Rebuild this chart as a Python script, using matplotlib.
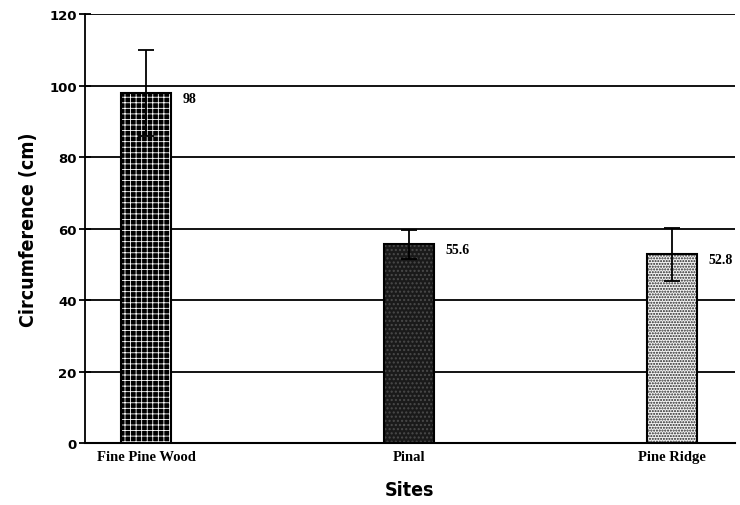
import matplotlib.pyplot as plt

sites = ['Fine Pine Wood', 'Pinal', 'Pine Ridge']
circumference = [98, 55.6, 52.8]
errors = [12, 4, 7.5]
value_labels = ['98', '55.6', '52.8']

fig = plt.figure(figsize=(7.4, 5.06), dpi=100)
ax = fig.add_axes([0.115, 0.1225, 0.878, 0.8475])

x = list(range(len(sites)))
w = 0.19

# gridlines behind the bars
ax.set_axisbelow(True)
ax.yaxis.grid(True, color='black', linewidth=1.3)

# Fine Pine Wood: black with fine white grid
plt.rcParams['hatch.linewidth'] = 0.6
ax.bar(x[0], circumference[0], width=w, color='black', edgecolor='white',
       hatch='+++', linewidth=0, zorder=2)
# Pinal: dense dark
plt.rcParams['hatch.linewidth'] = 1.0
ax.bar(x[1], circumference[1], width=w, color='#1a1a1a', edgecolor='#4a4a4a',
       hatch='....', linewidth=0, zorder=2)
# Pine Ridge: light dotted
ax.bar(x[2], circumference[2], width=w, color='#f4f4f4', edgecolor='#222222',
       hatch='......', linewidth=0, zorder=2)
# outlines
ax.bar(x, circumference, width=w, fill=False, edgecolor='black', linewidth=1.5, zorder=3)

ax.errorbar(x, circumference, yerr=errors, fmt='none', ecolor='black',
            elinewidth=1.3, capsize=6, capthick=1.3, zorder=4)

for xi, v, lab in zip(x, circumference, value_labels):
    ax.text(xi + w / 2 + 0.045, v - 1.5, lab, ha='left', va='center',
            fontsize=10, family='Liberation Serif', fontweight='bold')

ax.set_xlim(-0.233, 2.24)
ax.set_ylim(0, 120)
ax.set_yticks(range(0, 121, 20))
ax.set_xticks(x)
ax.set_xticklabels(sites, family='Liberation Serif', fontweight='bold', fontsize=10.5)
for lab in ax.get_yticklabels():
    lab.set_fontweight('bold')
    lab.set_fontsize(9.5)
ax.tick_params(axis='y', direction='inout', length=8, width=1.3, pad=2)
ax.tick_params(axis='x', length=0, pad=5)

ax.spines['top'].set_visible(False)
ax.spines['right'].set_visible(False)
ax.spines['left'].set_linewidth(1.3)
ax.spines['bottom'].set_linewidth(1.5)

ax.set_ylabel('Circumference (cm)', fontsize=14, fontweight='bold',
              family='DejaVu Sans', fontstretch='condensed', labelpad=8)
ax.set_xlabel('Sites', fontsize=14, fontweight='bold',
              family='DejaVu Sans', fontstretch='condensed', labelpad=12)

plt.savefig('out.png', dpi=100)
